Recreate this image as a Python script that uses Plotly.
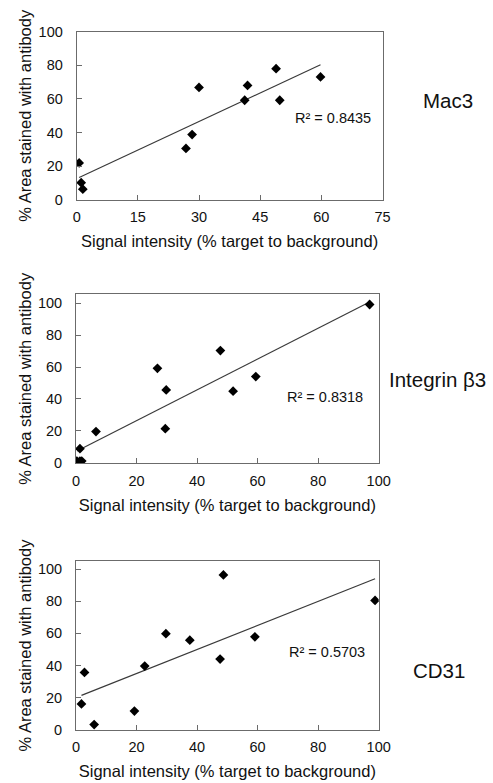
import numpy as np
import plotly.graph_objects as go

# ---------------- data ----------------
mac3_x = [0.6, 1.1, 1.5, 26.8, 28.3, 30.0, 41.2, 41.9, 48.9, 49.8, 59.8]
mac3_y = [22.0, 10.3, 6.4, 30.6, 38.8, 66.8, 59.2, 68.0, 77.9, 59.2, 73.0]
mac3_r2 = "R² = 0.8435"

itg_x = [0.3, 1.3, 1.9, 1.3, 6.6, 26.9, 29.5, 29.8, 47.7, 51.9, 59.4, 97.0]
itg_y = [1.0, 1.0, 1.0, 8.8, 19.5, 59.2, 21.3, 45.6, 70.3, 44.8, 54.0, 99.2]
itg_r2 = "R² = 0.8318"

cd31_x = [1.8, 2.8, 6.0, 19.3, 22.7, 29.7, 37.6, 47.6, 48.7, 59.1, 98.8]
cd31_y = [16.0, 35.6, 3.1, 11.5, 39.6, 59.8, 55.8, 44.0, 96.5, 57.9, 80.6]
cd31_r2 = "R² = 0.5703"

panel_names = ["Mac3", "Integrin β3", "CD31"]
x_title = "Signal intensity (% target to background)"
y_title = "% Area stained with antibody"

mac3_xticks = [0, 15, 30, 45, 60, 75]
other_xticks = [0, 20, 40, 60, 80, 100]
y_ticks = [0, 20, 40, 60, 80, 100]

# ---------------- figure ----------------
W, H = 493, 783
FONT = "Liberation Sans, Arial, sans-serif"
TXT = "#111111"
AX = "#6b6b6b"

fig = go.Figure()

panels = [
    dict(x=mac3_x, y=mac3_y, r2=mac3_r2, xr=[0, 75], yr=[0, 100], xt=mac3_xticks,
         px=(76.7, 382.5), py=(31.5, 200.0), r2pos=(293, 118), lab=(421, 100)),
    dict(x=itg_x, y=itg_y, r2=itg_r2, xr=[0, 100], yr=[-0.4, 105.6], xt=other_xticks,
         px=(76.0, 378.7), py=(294.3, 463.3), r2pos=(285, 397), lab=(387, 380)),
    dict(x=cd31_x, y=cd31_y, r2=cd31_r2, xr=[0, 100], yr=[-0.3, 105.2], xt=other_xticks,
         px=(76.0, 378.7), py=(561.0, 730.0), r2pos=(287, 652), lab=(411, 670)),
]

annotations = []
for i, p in enumerate(panels, start=1):
    xa = "x" if i == 1 else f"x{i}"
    ya = "y" if i == 1 else f"y{i}"
    xs = np.array(p["x"])
    ys = np.array(p["y"])
    slope, icpt = np.polyfit(xs, ys, 1)
    lx = np.array([xs.min(), xs.max()])
    fig.add_trace(go.Scatter(x=lx, y=slope * lx + icpt, mode="lines",
                             line=dict(color="#3a3a3a", width=1.2),
                             xaxis=xa, yaxis=ya, showlegend=False, hoverinfo="skip"))
    fig.add_trace(go.Scatter(x=xs, y=ys, mode="markers",
                             marker=dict(symbol="diamond", size=7.5, color="black"),
                             xaxis=xa, yaxis=ya, showlegend=False))

    xdom = [p["px"][0] / W, p["px"][1] / W]
    ydom = [1 - p["py"][1] / H, 1 - p["py"][0] / H]
    axcommon = dict(showgrid=False, zeroline=False, showline=True, mirror=True,
                    automargin=False,
                    linecolor=AX, linewidth=1, ticks="inside", ticklen=5,
                    tickcolor=AX, tickwidth=1,
                    tickfont=dict(family=FONT, size=14.5, color=TXT))
    key = "" if i == 1 else str(i)
    fig.update_layout(**{
        f"xaxis{key}": dict(domain=xdom, range=p["xr"], tickvals=p["xt"],
                            anchor=ya, ticklabelstandoff=4,
                            title=dict(text=x_title, standoff=11,
                                       font=dict(family=FONT, size=16.5, color=TXT)),
                            **axcommon),
        f"yaxis{key}": dict(domain=ydom, range=p["yr"], tickvals=y_ticks,
                            anchor=xa, ticklabelstandoff=10,
                            title=dict(text=y_title, standoff=2,
                                       font=dict(family=FONT, size=16.5, color=TXT)),
                            **axcommon),
    })
    annotations.append(dict(text=p["r2"], xref="paper", yref="paper",
                            x=p["r2pos"][0] / W, y=1 - p["r2pos"][1] / H,
                            xanchor="left", yanchor="middle", showarrow=False,
                            font=dict(family=FONT, size=14.5, color=TXT)))
    annotations.append(dict(text=panel_names[i - 1], xref="paper", yref="paper",
                            x=p["lab"][0] / W, y=1 - p["lab"][1] / H,
                            xanchor="left", yanchor="middle", showarrow=False,
                            font=dict(family=FONT, size=20.5, color=TXT)))

fig.update_layout(width=W, height=H, margin=dict(l=0, r=0, t=0, b=0),
                  paper_bgcolor="white", plot_bgcolor="white",
                  annotations=annotations, showlegend=False)

fig.write_html("out.html", config={"displayModeBar": False},
               post_script="document.body.style.margin='0';document.body.style.padding='0';")
